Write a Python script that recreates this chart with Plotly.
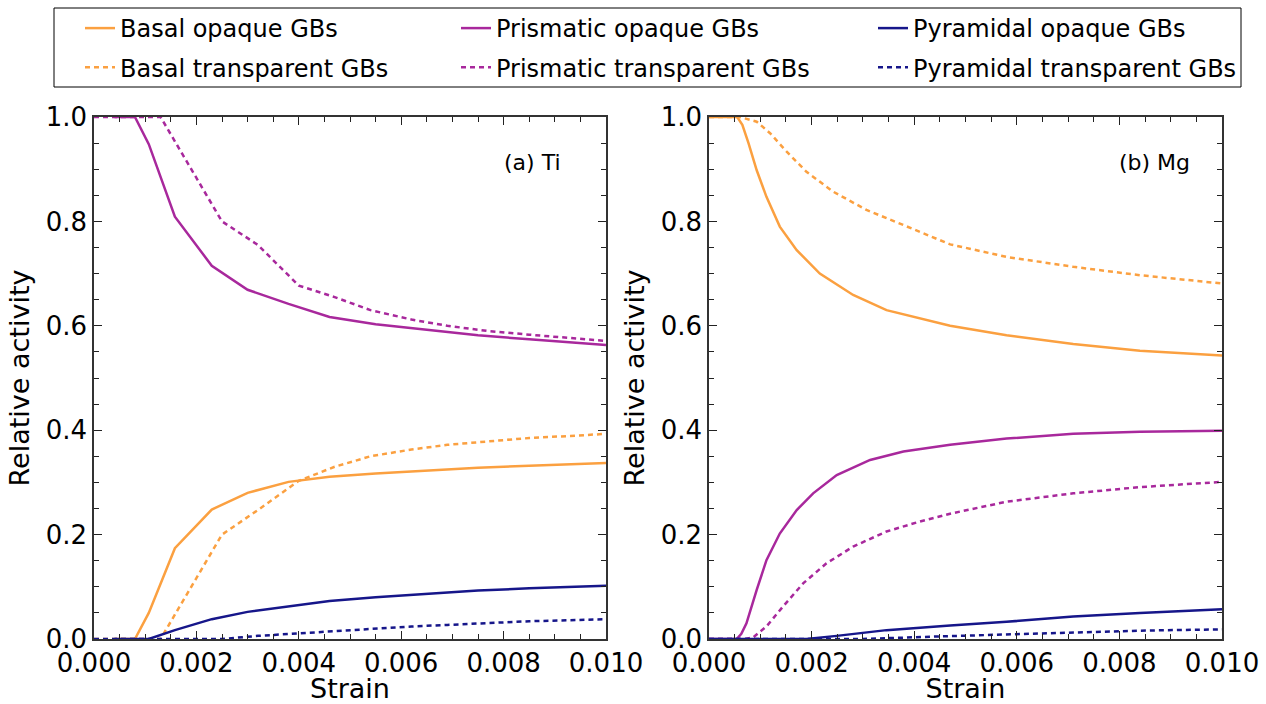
import plotly.graph_objects as go

# ---------------- data ----------------
# (a) Ti
ti_op_x = [0.0004, 0.0008, 0.00107, 0.00158, 0.0023, 0.0030, 0.0038, 0.0046, 0.0055, 0.0065, 0.0075, 0.0085, 0.0100]
ti_basal_op = [0.0, 0.0, 0.050, 0.174, 0.248, 0.280, 0.301, 0.311, 0.317, 0.323, 0.328, 0.332, 0.337]
ti_prism_op = [1.0, 1.0, 0.948, 0.809, 0.715, 0.669, 0.642, 0.617, 0.603, 0.592, 0.582, 0.574, 0.563]
ti_pyr_op = [0.0, 0.0, 0.0, 0.017, 0.038, 0.052, 0.063, 0.073, 0.080, 0.087, 0.093, 0.097, 0.102]

ti_tr_x = [0.0, 0.0013, 0.0025, 0.0032, 0.0040, 0.0047, 0.0054, 0.0062, 0.0069, 0.0077, 0.0085, 0.0093, 0.0100]
ti_basal_tr = [0.0, 0.0, 0.200, 0.247, 0.303, 0.330, 0.350, 0.363, 0.372, 0.379, 0.385, 0.389, 0.393]
ti_prism_tr = [1.0, 1.0, 0.800, 0.755, 0.677, 0.655, 0.630, 0.612, 0.600, 0.590, 0.583, 0.577, 0.571]
ti_pyr_tr = [0.0, 0.0, 0.0, 0.006, 0.011, 0.016, 0.020, 0.024, 0.027, 0.031, 0.034, 0.036, 0.038]

# (b) Mg
mg_basal_op_x = [0.0, 0.00055, 0.00065, 0.00077, 0.00093, 0.00112, 0.00138, 0.00171, 0.00216, 0.00281, 0.00346, 0.0047, 0.0058, 0.0071, 0.0084, 0.0100]
mg_basal_op = [1.0, 1.0, 0.985, 0.950, 0.898, 0.847, 0.790, 0.745, 0.700, 0.659, 0.630, 0.600, 0.582, 0.565, 0.552, 0.543]

mg_basal_tr_x = [0.0, 0.0006, 0.00093, 0.00119, 0.00151, 0.0019, 0.00242, 0.00307, 0.00379, 0.0047, 0.0058, 0.0071, 0.0084, 0.0100]
mg_basal_tr = [1.0, 1.0, 0.991, 0.969, 0.934, 0.895, 0.857, 0.822, 0.793, 0.756, 0.732, 0.713, 0.697, 0.681]

mg_prism_op_x = [0.0, 0.00054, 0.00063, 0.00073, 0.00093, 0.00112, 0.00138, 0.00171, 0.00203, 0.00249, 0.00314, 0.00379, 0.0047, 0.0058, 0.0071, 0.0084, 0.0100]
mg_prism_op = [0.0, 0.0, 0.010, 0.030, 0.094, 0.151, 0.202, 0.247, 0.279, 0.314, 0.343, 0.359, 0.372, 0.384, 0.393, 0.397, 0.399]

mg_prism_tr_x = [0.0, 0.0007, 0.00086, 0.00112, 0.00144, 0.00184, 0.00229, 0.00281, 0.00346, 0.00411, 0.0047, 0.0058, 0.0071, 0.0084, 0.0100]
mg_prism_tr = [0.0, 0.0, 0.003, 0.024, 0.062, 0.107, 0.145, 0.177, 0.206, 0.225, 0.240, 0.263, 0.279, 0.291, 0.301]

mg_pyr_op_x = [0.0, 0.0019, 0.00249, 0.00346, 0.0047, 0.0058, 0.0071, 0.0084, 0.0100]
mg_pyr_op = [0.0, 0.0, 0.006, 0.017, 0.026, 0.033, 0.043, 0.050, 0.057]

mg_pyr_tr_x = [0.0, 0.0030, 0.0045, 0.0058, 0.0071, 0.0084, 0.0100]
mg_pyr_tr = [0.0, 0.0, 0.005, 0.009, 0.013, 0.016, 0.0185]

x_ticks = [0.000, 0.002, 0.004, 0.006, 0.008, 0.010]
y_ticks = [0.0, 0.2, 0.4, 0.6, 0.8, 1.0]

# ---------------- styling ----------------
ORANGE = "#FBA040"
PURPLE = "#A8289C"
NAVY = "#16168A"
LW = 2.5
DOT = "5px,4px"
FONT = "DejaVu Sans"

fig = go.Figure()

def add(x, y, name, color, dash, xa, ya, legend, show):
    fig.add_trace(go.Scatter(
        x=x, y=y, mode="lines", name=name,
        line=dict(color=color, width=LW, dash=dash),
        xaxis=xa, yaxis=ya, legend=legend, legendgroup=name + xa,
        showlegend=show))

# Ti panel (also carries the legend entries)
add(ti_op_x, ti_basal_op, "Basal opaque GBs", ORANGE, "solid", "x", "y", "legend", True)
add(ti_tr_x, ti_basal_tr, "Basal transparent GBs", ORANGE, DOT, "x", "y", "legend", True)
add(ti_op_x, ti_prism_op, "Prismatic opaque GBs", PURPLE, "solid", "x", "y", "legend2", True)
add(ti_tr_x, ti_prism_tr, "Prismatic transparent GBs", PURPLE, DOT, "x", "y", "legend2", True)
add(ti_op_x, ti_pyr_op, "Pyramidal opaque GBs", NAVY, "solid", "x", "y", "legend3", True)
add(ti_tr_x, ti_pyr_tr, "Pyramidal transparent GBs", NAVY, DOT, "x", "y", "legend3", True)

# Mg panel
add(mg_basal_op_x, mg_basal_op, "Basal opaque GBs", ORANGE, "solid", "x2", "y2", "legend", False)
add(mg_basal_tr_x, mg_basal_tr, "Basal transparent GBs", ORANGE, DOT, "x2", "y2", "legend", False)
add(mg_prism_op_x, mg_prism_op, "Prismatic opaque GBs", PURPLE, "solid", "x2", "y2", "legend2", False)
add(mg_prism_tr_x, mg_prism_tr, "Prismatic transparent GBs", PURPLE, DOT, "x2", "y2", "legend2", False)
add(mg_pyr_op_x, mg_pyr_op, "Pyramidal opaque GBs", NAVY, "solid", "x2", "y2", "legend3", False)
add(mg_pyr_tr_x, mg_pyr_tr, "Pyramidal transparent GBs", NAVY, DOT, "x2", "y2", "legend3", False)

W, H = 1266, 704

def xax(domain, anchor):
    return dict(domain=domain, anchor=anchor, range=[0, 0.01], automargin=False,
                tickvals=x_ticks, ticktext=[f"{v:.3f}" for v in x_ticks],
                ticks="inside", ticklen=8, tickwidth=1.3, tickcolor="#222",
                minor=dict(ticks="inside", dtick=0.0005, ticklen=5, tickwidth=1.2, tickcolor="#222"),
                showline=True, linecolor="#333", linewidth=1.5, mirror="allticks",
                showgrid=False, zeroline=False,
                tickfont=dict(family=FONT, size=26, color="black"),
                title=dict(text="Strain", font=dict(family=FONT, size=27, color="black"), standoff=4))

def yax(domain, anchor):
    return dict(domain=domain, anchor=anchor, range=[0, 1.0], automargin=False,
                tickvals=y_ticks, ticktext=[f"{v:.1f}" for v in y_ticks],
                ticks="inside", ticklen=8, tickwidth=1.3, tickcolor="#222",
                minor=dict(ticks="inside", dtick=0.05, ticklen=5, tickwidth=1.2, tickcolor="#222"),
                showline=True, linecolor="#333", linewidth=1.5, mirror="allticks",
                showgrid=False, zeroline=False,
                tickfont=dict(family=FONT, size=26, color="black"),
                title=dict(text="Relative activity", font=dict(family=FONT, size=27, color="black"), standoff=8))

ylo, yhi = (H - 639) / H, (H - 117) / H
leg_common = dict(orientation="v", yanchor="top", xanchor="left", bgcolor="rgba(0,0,0,0)",
                  borderwidth=0, font=dict(family=FONT, size=24, color="black"),
                  tracegroupgap=5, itemclick=False, itemdoubleclick=False)

LEG_Y = 1 - 6 / H
fig.update_layout(
    width=W, height=H, autosize=False,
    margin=dict(l=0, r=0, t=0, b=0, pad=0, autoexpand=False),
    paper_bgcolor="white", plot_bgcolor="white",
    xaxis=xax([94 / W, 606 / W], "y"),
    yaxis=yax([ylo, yhi], "x"),
    xaxis2=xax([709 / W, 1222 / W], "y2"),
    yaxis2=yax([ylo, yhi], "x2"),
    legend=dict(x=80 / W, y=LEG_Y, **leg_common),
    legend2=dict(x=456 / W, y=LEG_Y, **leg_common),
    legend3=dict(x=873 / W, y=LEG_Y, **leg_common),
    shapes=[dict(type="rect", xref="paper", yref="paper",
                 x0=54 / W, x1=1241 / W, y0=1 - 87 / H, y1=1 - 8 / H,
                 line=dict(color="black", width=1), fillcolor="rgba(0,0,0,0)")],
    annotations=[
        dict(text="(a) Ti", xref="x domain", yref="y domain", x=0.857, y=0.912,
             xanchor="center", yanchor="middle",
             showarrow=False, font=dict(family=FONT, size=22, color="black")),
        dict(text="(b) Mg", xref="x2 domain", yref="y2 domain", x=0.869, y=0.912,
             xanchor="center", yanchor="middle",
             showarrow=False, font=dict(family=FONT, size=22, color="black")),
    ],
)

fig.write_html("out.html")
